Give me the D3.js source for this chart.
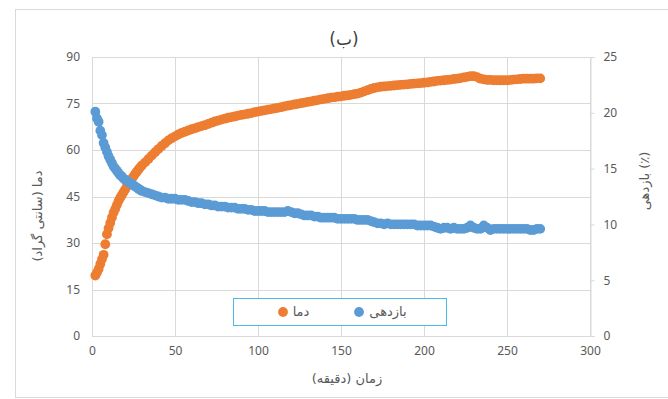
<!DOCTYPE html>
<html><head><meta charset="utf-8">
<script src="https://cdn.jsdelivr.net/npm/d3@7"></script>
<style>
html,body{margin:0;padding:0;background:#fff;}
svg{display:block;}
</style></head>
<body>
<script>
// time (minutes)
const time = [2,3,4,5,6,7,8,9,10,11,12,13,14,15,16,17,18,19,20,21,22,23,24,25,26,27,28,29,30,
32,34,36,38,40,42,44,46,48,50,52,54,56,58,60,62,64,66,68,70,72,74,76,78,80,82,84,86,88,90,
92,94,96,98,100,102,104,106,108,110,112,114,116,118,120,122,124,126,128,130,132,134,136,138,140,
142,144,146,148,150,152,154,156,158,160,162,164,166,168,170,172,174,176,178,180,182,184,186,188,190,
192,194,196,198,200,202,204,206,208,210,212,214,216,218,220,222,224,226,228,230,232,234,236,238,240,
242,244,246,248,250,252,254,256,258,260,262,264,266,268,270];
// دما (temperature, left axis)
const temperature = [19.5,20.5,21.6,23.2,24.8,26.2,29.6,32.8,34.8,36.5,38.2,39.8,41.0,42.3,43.6,44.6,45.5,46.4,47.3,48.2,49.0,49.9,50.7,51.5,52.3,53.0,53.7,54.4,55.0,
56.0,57.1,58.2,59.3,60.3,61.3,62.2,63.1,63.8,64.4,65.0,65.5,65.9,66.3,66.7,67.0,67.4,67.7,68.0,68.4,68.8,69.2,69.5,69.8,70.1,70.4,70.6,70.8,71.1,71.3,
71.5,71.7,71.9,72.2,72.4,72.6,72.8,73.0,73.2,73.4,73.6,73.8,74.1,74.3,74.5,74.7,74.9,75.1,75.3,75.5,75.7,75.9,76.1,76.3,76.5,
76.7,76.9,77.0,77.2,77.3,77.5,77.6,77.8,78.0,78.2,78.5,78.9,79.3,79.7,80.0,80.2,80.4,80.5,80.6,80.7,80.8,80.9,81.0,81.1,81.2,
81.3,81.4,81.5,81.6,81.7,81.8,82.0,82.1,82.3,82.4,82.5,82.6,82.7,82.9,83.0,83.2,83.4,83.6,83.8,83.8,83.5,83.0,82.8,82.6,82.6,
82.5,82.5,82.5,82.5,82.5,82.6,82.7,82.8,82.9,83.0,83.0,83.0,83.0,83.1,83.1];
// بازدهی (efficiency %, right axis)
const efficiency = [20.1,19.5,19.2,18.4,18.0,17.3,16.9,16.5,16.1,15.8,15.5,15.2,15.0,14.8,14.6,14.4,14.3,14.1,14.0,13.9,13.8,13.7,13.6,13.5,13.4,13.3,13.2,13.1,13.0,
12.9,12.8,12.7,12.6,12.5,12.4,12.4,12.3,12.3,12.3,12.2,12.2,12.2,12.1,12.0,12.0,11.9,11.9,11.8,11.8,11.7,11.7,11.6,11.6,11.6,11.5,11.5,11.5,11.4,11.4,
11.4,11.3,11.3,11.2,11.2,11.2,11.2,11.1,11.1,11.1,11.1,11.1,11.1,11.2,11.1,11.0,11.0,10.9,10.8,10.8,10.8,10.7,10.7,10.6,10.6,
10.6,10.6,10.6,10.5,10.5,10.5,10.5,10.5,10.5,10.4,10.4,10.4,10.4,10.3,10.2,10.1,10.1,10.0,10.1,10.0,10.0,10.0,10.0,10.0,10.0,
10.0,10.0,9.9,9.9,9.9,9.9,9.9,9.8,9.7,9.6,9.7,9.7,9.6,9.7,9.6,9.6,9.6,9.7,9.9,9.7,9.6,9.6,9.9,9.7,9.5,
9.6,9.6,9.6,9.6,9.6,9.6,9.6,9.6,9.6,9.6,9.6,9.5,9.5,9.6,9.6];

const xTicks = [0,50,100,150,200,250,300];
const leftTicks = [0,15,30,45,60,75,90];
const rightTicks = [0,5,10,15,20,25];

const W = 668, H = 399;
const plot = {l:92, r:590, t:57, b:336};
const latin = "'Noto Sans', 'DejaVu Sans', sans-serif";
const arabic = "'DejaVu Sans', 'Noto Sans', sans-serif";
const textCol = "#595959", gridCol = "#D9D9D9";
const orange = "#ED7D31", blue = "#5B9BD5";
const R = 4.9;

const svg = d3.select("body").append("svg").attr("width", W).attr("height", H);
svg.append("rect").attr("x",0).attr("y",0).attr("width",W).attr("height",H).attr("fill","#fff");
svg.append("rect").attr("x",15.5).attr("y",9.5).attr("width",720).attr("height",388)
  .attr("fill","none").attr("stroke",gridCol).attr("stroke-width",1);

const x = d3.scaleLinear().domain([0,300]).range([plot.l, plot.r]);
const yL = d3.scaleLinear().domain([0,90]).range([plot.b, plot.t]);
const yR = d3.scaleLinear().domain([0,25]).range([plot.b, plot.t]);

// gridlines
const g = svg.append("g");
g.selectAll(".vg").data(xTicks).join("line")
  .attr("x1", d=>Math.round(x(d))+0.5).attr("x2", d=>Math.round(x(d))+0.5)
  .attr("y1", plot.t).attr("y2", plot.b).attr("stroke", gridCol);
g.selectAll(".hg").data(leftTicks).join("line")
  .attr("x1", plot.l).attr("x2", plot.r)
  .attr("y1", d=>Math.round(yL(d))+0.5).attr("y2", d=>Math.round(yL(d))+0.5).attr("stroke", gridCol);

// axes
const xAxis = d3.axisBottom(x).tickValues(xTicks).tickSize(0).tickPadding(10);
const ax = svg.append("g").attr("transform", `translate(0,${plot.b})`).call(xAxis);
ax.select(".domain").attr("stroke", gridCol);
ax.selectAll("text").attr("fill", textCol).style("font-family", latin).style("font-size","12px");

const lAxis = d3.axisLeft(yL).tickValues(leftTicks).tickSize(0).tickPadding(12);
const al = svg.append("g").attr("transform", `translate(${plot.l},0)`).call(lAxis);
al.select(".domain").remove();
al.selectAll("text").attr("fill", textCol).style("font-family", latin).style("font-size","12px");

const rAxis = d3.axisRight(yR).tickValues(rightTicks).tickSize(4).tickPadding(9);
const ar = svg.append("g").attr("transform", `translate(${plot.r+0.5},0)`).call(rAxis);
ar.select(".domain").attr("stroke", gridCol);
ar.selectAll("line").attr("stroke", gridCol);
ar.selectAll("text").attr("fill", textCol).style("font-family", latin).style("font-size","12px");

// data
const data = time.map((t,i)=>({t, T:temperature[i], E:efficiency[i]}));
svg.append("g").selectAll("circle").data(data).join("circle")
  .attr("cx", d=>x(d.t)).attr("cy", d=>yL(d.T)).attr("r", R).attr("fill", orange);
svg.append("g").selectAll("circle").data(data).join("circle")
  .attr("cx", d=>x(d.t)).attr("cy", d=>yR(d.E)).attr("r", R).attr("fill", blue);

// title
svg.append("text").attr("x", 344).attr("y", 45).attr("text-anchor","middle")
  .style("font-family", arabic).style("font-size","17px").attr("fill", "#404040").text("(ب)");

// axis titles
svg.append("text").attr("transform","translate(42,216) rotate(-90)").attr("text-anchor","middle")
  .style("font-family", arabic).style("font-size","13px").attr("fill", textCol).text("دما (سانتی گراد)");
svg.append("text").attr("transform","translate(649,181) rotate(-90)").attr("text-anchor","middle")
  .style("font-family", arabic).style("font-size","13px").attr("fill", textCol).text("بازدهی (٪)");
svg.append("text").attr("x", 347).attr("y", 383).attr("text-anchor","middle")
  .style("font-family", arabic).style("font-size","13px").attr("fill", textCol).text("زمان (دقیقه)");

// legend
const lg = svg.append("g");
lg.append("rect").attr("x",233.5).attr("y",298.5).attr("width",213).attr("height",27)
  .attr("fill","#fff").attr("stroke","#4BB8E8").attr("stroke-width",1);
lg.append("circle").attr("cx",283).attr("cy",312).attr("r",R).attr("fill",orange);
lg.append("text").attr("x",301).attr("y",316).attr("text-anchor","middle")
  .style("font-family", arabic).style("font-size","13px").attr("fill", textCol).text("دما");
lg.append("circle").attr("cx",359).attr("cy",312).attr("r",R).attr("fill",blue);
lg.append("text").attr("x",388).attr("y",316).attr("text-anchor","middle")
  .style("font-family", arabic).style("font-size","13px").attr("fill", textCol).text("بازدهی");
</script>
</body></html>
